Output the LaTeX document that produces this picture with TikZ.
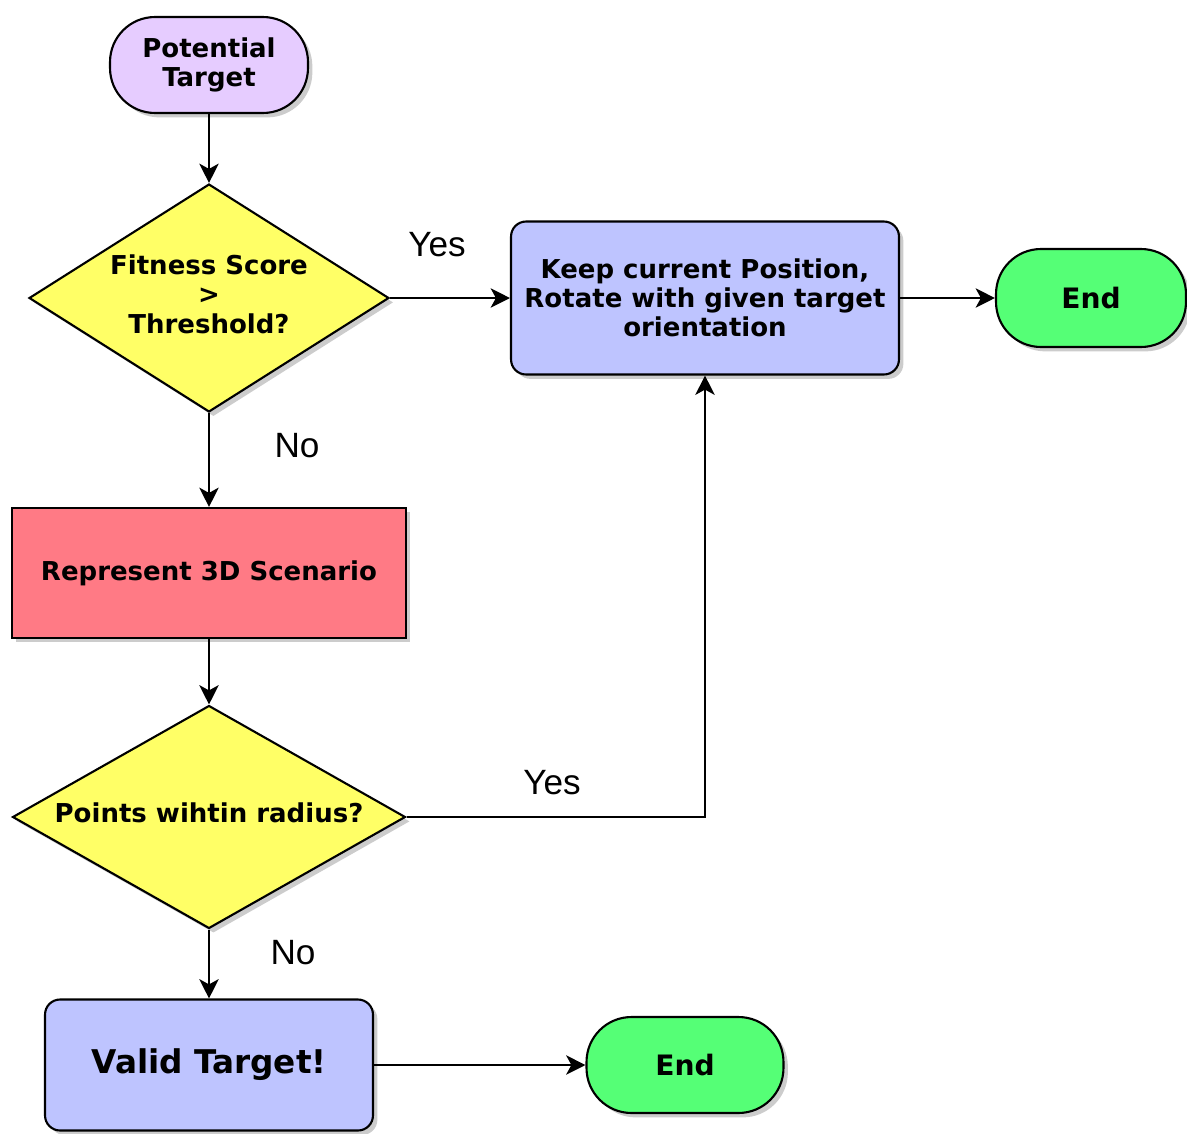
\documentclass[tikz,border=0pt]{standalone}
\usepackage{fontspec}
\setsansfont{DejaVu Sans}
\newfontfamily\labelfont{Liberation Sans}
\usetikzlibrary{shapes.geometric,shadows,arrows.meta}
\definecolor{termpurple}{RGB}{230,204,255}
\definecolor{procblue}{RGB}{190,196,255}
\definecolor{procred}{RGB}{255,122,133}
\definecolor{decyellow}{RGB}{255,255,102}
\definecolor{endgreen}{RGB}{85,255,118}
\newcommand{\dtext}[1]{\makebox[0pt]{\begin{tabular}{@{}c@{}}#1\end{tabular}}}
\tikzset{
  base/.style={draw=black, line width=1.2pt, align=center, inner sep=0pt,
    font=\sffamily\bfseries\fontsize{14.8}{16.5}\selectfont,
    drop shadow={shadow xshift=2.5pt, shadow yshift=-2.5pt, opacity=0.4}},
  term/.style={base, rectangle, rounded corners=0.9cm},
  proc/.style={base, rectangle},
  decision/.style={base, diamond},
  arr/.style={line width=1.1pt, -{Stealth[length=11pt, width=11pt, inset=3pt]}},
  lbl/.style={font=\labelfont\fontsize{20}{20}\selectfont}
}
\begin{document}
\begin{tikzpicture}[x=0.02cm, y=-0.02cm]
\useasboundingbox (0,0) rectangle (1187,1133);
\node[term, fill=termpurple, minimum width=3.96cm, minimum height=1.92cm] (ptarget) at (209,65){Potential\\Target};
\node[decision, fill=decyellow, minimum width=7.2cm, minimum height=4.56cm, font=\sffamily\bfseries\fontsize{14.8}{17}\selectfont] (fitness) at (209,298){\dtext{Fitness Score\\>\\Threshold?}};
\node[proc, fill=procblue, rounded corners=0.3cm, minimum width=7.76cm, minimum height=3.06cm] (keep) at (705,298){Keep current Position,\\Rotate with given target\\orientation};
\node[term, fill=endgreen, minimum width=3.8cm, minimum height=1.96cm, font=\sffamily\bfseries\fontsize{16}{18}\selectfont] (end1) at (1091,298){End};
\node[proc, fill=procred, minimum width=7.88cm, minimum height=2.6cm] (scene) at (209,573){Represent 3D Scenario};
\node[decision, fill=decyellow, minimum width=7.86cm, minimum height=4.46cm] (radius) at (209,817){\dtext{Points wihtin radius?}};
\node[proc, fill=procblue, rounded corners=0.3cm, minimum width=6.56cm, minimum height=2.62cm, font=\sffamily\bfseries\fontsize{18.6}{20}\selectfont] (valid) at (209,1065){Valid Target!};
\node[term, fill=endgreen, minimum width=3.94cm, minimum height=1.92cm, font=\sffamily\bfseries\fontsize{16}{18}\selectfont] (end2) at (685,1065){End};
% labels
\node[lbl] (yes1) at (437,245){Yes};
\node[lbl] (no1) at (297,446){No};
\node[lbl] (yes2) at (552,783){Yes};
\node[lbl] (no2) at (293,953){No};
% connectors
\draw[arr](ptarget) -- (fitness);
\draw[arr](fitness.east) -- (keep.west);
\draw[arr](keep.east) -- (end1.west);
\draw[arr](fitness.south) -- (scene.north);
\draw[arr](scene.south) -- (radius.north);
\draw[arr](radius.east) -| (keep.south);
\draw[arr](radius.south) -- (valid.north);
\draw[arr](valid.east) -- (end2.west);
\end{tikzpicture}
\end{document}
